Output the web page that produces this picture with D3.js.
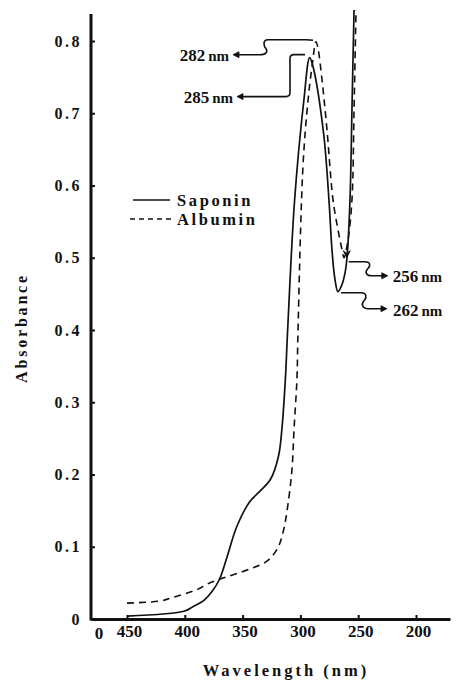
<!DOCTYPE html>
<html>
<head>
<meta charset="utf-8">
<script src="https://cdn.jsdelivr.net/npm/d3@7/dist/d3.min.js"></script>
<style>
  html, body { margin: 0; padding: 0; background: #fff; }
  svg { display: block; }
  text { font-family: "Liberation Serif", "DejaVu Serif", serif; font-weight: bold; fill: #111; }
</style>
</head>
<body>
<div id="chart"></div>
<script>
// ---- data ----
const sapoWave = [450, 400, 393, 384, 376, 370, 364, 355, 344, 335, 326, 319, 316, 313, 311, 305, 297, 292, 289, 280, 275.3, 272.7, 270.1, 267.5, 264, 261.4, 259.7, 257.1, 255.4, 253.6];
const sapoAbs  = [0.004, 0.011, 0.017, 0.025, 0.039, 0.055, 0.083, 0.128, 0.162, 0.177, 0.193, 0.225, 0.263, 0.332, 0.401, 0.580, 0.718, 0.777, 0.764, 0.673, 0.580, 0.511, 0.470, 0.453, 0.463, 0.479, 0.500, 0.580, 0.705, 0.843];
const albWave  = [450, 421, 410, 389, 381, 370, 344, 329, 320, 315, 311, 307.3, 305.5, 303, 302.1, 297.8, 293.4, 290, 286.5, 284.8, 281.3, 277, 271.8, 267.5, 264, 262.3, 258.8, 255.4, 253.6, 251.9];
const albAbs   = [0.022, 0.025, 0.030, 0.041, 0.048, 0.055, 0.069, 0.080, 0.097, 0.120, 0.156, 0.207, 0.263, 0.332, 0.397, 0.626, 0.718, 0.764, 0.799, 0.790, 0.746, 0.677, 0.580, 0.539, 0.511, 0.500, 0.525, 0.580, 0.705, 0.843];
const xTicks = [450, 400, 350, 300, 250, 200];
const yTicks = [0, 0.1, 0.2, 0.3, 0.4, 0.5, 0.6, 0.7, 0.8];
const seriesNames = ["Saponin", "Albumin"];
const peakLabels = ["282", "285", "256", "262"];
// annotation anchors (wavelength, absorbance on the drawn curves)
const annWave = [286.5, 291.7, 259.9, 267.5];
const annAbs  = [0.799, 0.777, 0.500, 0.453];

const W = 456, H = 682;
const svg = d3.select("#chart").append("svg").attr("width", W).attr("height", H);

const x = d3.scaleLinear().domain([450, 200]).range([127, 416]);
const xLeft = x.invert(91), xRight = x.invert(450);
x.domain([xLeft, xRight]).range([91, 450]);
const y = d3.scaleLinear().domain([0, 0.8]).range([619, 41]);
const yTop = y.invert(14);

// axes
const xAxis = d3.axisBottom(x).tickValues(xTicks).tickSizeInner(-4).tickSizeOuter(0).tickPadding(6).tickFormat(d3.format("d"));
const gx = svg.append("g").attr("transform", `translate(0,${y(0)})`).call(xAxis);
gx.select(".domain").attr("stroke", "#111").attr("stroke-width", 3);
gx.selectAll(".tick line").attr("stroke", "#111").attr("stroke-width", 2);
gx.selectAll(".tick text").attr("font-size", 17).attr("fill", "#111")
  .attr("font-family", '"Liberation Serif", serif').attr("font-weight", "bold").attr("dx", 2);

const yAxis = d3.axisLeft(y).tickValues(yTicks).tickSizeInner(-4).tickSizeOuter(0).tickPadding(9)
  .tickFormat(d => d === 0 ? "0" : d3.format(".1f")(d));
const gy = svg.append("g").attr("transform", `translate(${x(xLeft)},0)`).call(yAxis);
gy.select(".domain").remove();
gy.append("line").attr("x1", 0).attr("x2", 0).attr("y1", y(0) + 1.5).attr("y2", y(yTop))
  .attr("stroke", "#111").attr("stroke-width", 3);
gy.selectAll(".tick line").attr("stroke", "#111").attr("stroke-width", 2);
gy.selectAll(".tick text").attr("font-size", 16).attr("fill", "#111")
  .attr("font-family", '"Liberation Serif", serif').attr("font-weight", "bold")
  .attr("letter-spacing", "2.5px");

// origin "0"
svg.append("text").attr("x", x(xLeft) + 8).attr("y", y(0) + 20).attr("text-anchor", "middle")
  .attr("font-size", 17).text("0");

// axis titles
svg.append("text").attr("x", 286).attr("y", 676).attr("text-anchor", "middle")
  .attr("font-size", 16.5).attr("letter-spacing", "3px").text("Wavelength (nm)");
svg.append("text").attr("transform", "translate(27,328) rotate(-90)").attr("text-anchor", "middle")
  .attr("font-size", 16).attr("letter-spacing", "2.8px").text("Absorbance");

// curves
const line = d3.line().x(d => x(d[0])).y(d => y(d[1])).curve(d3.curveCatmullRom.alpha(0.5));
const sapo = sapoWave.map((w, i) => [w, sapoAbs[i]]);
const alb = albWave.map((w, i) => [w, albAbs[i]]);
svg.append("path").datum(alb).attr("d", line).attr("fill", "none").attr("stroke", "#111")
  .attr("stroke-width", 1.6).attr("stroke-dasharray", "7,5");
svg.append("path").datum(sapo).attr("d", line).attr("fill", "none").attr("stroke", "#111")
  .attr("stroke-width", 1.7);

// legend
const legX = 133, legY = [200, 219];
svg.append("line").attr("x1", legX).attr("x2", legX + 37).attr("y1", legY[0]).attr("y2", legY[0])
  .attr("stroke", "#111").attr("stroke-width", 1.7);
svg.append("line").attr("x1", legX - 3).attr("x2", legX + 40).attr("y1", legY[1]).attr("y2", legY[1])
  .attr("stroke", "#111").attr("stroke-width", 1.5).attr("stroke-dasharray", "5,4");
seriesNames.forEach((n, i) => {
  svg.append("text").attr("x", legX + 44).attr("y", legY[i] + 6).attr("font-size", 16.5)
    .attr("letter-spacing", "2.6px").text(n);
});

// annotations
const ann = svg.append("g").attr("fill", "none").attr("stroke", "#111").attr("stroke-width", 1.6);
function arrowHead(px, py, dir) {
  // dir: "left", "right", "down"
  let p;
  if (dir === "left") p = `M${px},${py} l6,-3 l0,6 z`;
  else if (dir === "right") p = `M${px},${py} l-6,-3 l0,6 z`;
  else p = `M${px},${py} l-3.5,-7 l3.5,2.5 l3.5,-2.5 z`;
  svg.append("path").attr("d", p).attr("fill", "#111").attr("stroke", "#111").attr("stroke-width", 0.8);
}
function label(tx, ty, num, anchor) {
  const t = svg.append("text").attr("x", tx).attr("y", ty).attr("text-anchor", anchor).attr("font-size", 17);
  t.append("tspan").text(num);
  t.append("tspan").attr("dx", 3).attr("font-size", 15).text("nm");
}
// 282 nm (albumin peak)
{
  const px = x(annWave[0]), py = y(annAbs[0]);
  ann.append("path").attr("d",
    `M${px - 3},${py - 1.5} Q${px - 6},${py - 2} ${px - 10},${py - 2} H${px - 48}` +
    ` C${px - 54},${py - 2} ${px - 52},${py + 5} ${px - 50},${py + 7}` +
    ` C${px - 48},${py + 10} ${px - 50},${py + 13} ${px - 56},${py + 13} H${px - 78}`);
  arrowHead(px - 83, py + 13, "left");
  label(px - 87, py + 19, peakLabels[0], "end");
}
// 285 nm (saponin peak)
{
  const px = x(annWave[1]), py = y(annAbs[1]);
  ann.append("path").attr("d",
    `M${px - 5},${py - 3} H${px - 16} Q${px - 20},${py - 3} ${px - 20},${py + 1} V${py + 35}` +
    ` Q${px - 20},${py + 39} ${px - 24},${py + 39} H${px - 68}`);
  arrowHead(px - 73, py + 39, "left");
  label(px - 77, py + 45, peakLabels[1], "end");
}
// 256 nm (albumin trough)
{
  const px = x(annWave[2]), py = y(annAbs[2]);
  arrowHead(px, py, "down");
  ann.append("path").attr("d",
    `M${px + 2},${py + 4} H${px + 18} C${px + 24},${py + 4} ${px + 24},${py + 8} ${px + 21},${py + 11}` +
    ` C${px + 18},${py + 14} ${px + 19},${py + 18} ${px + 25},${py + 18} H${px + 36}`);
  arrowHead(px + 41, py + 18, "right");
  label(px + 46, py + 24, peakLabels[2], "start");
}
// 262 nm (saponin trough)
{
  const px = x(annWave[3]), py = y(annAbs[3]);
  ann.append("path").attr("d",
    `M${px + 3},${py + 1} H${px + 23} C${px + 29},${py + 1} ${px + 29},${py + 6} ${px + 26},${py + 9}` +
    ` C${px + 23},${py + 12} ${px + 24},${py + 17} ${px + 30},${py + 17} H${px + 44}`);
  arrowHead(px + 49, py + 17, "right");
  label(px + 55, py + 24, peakLabels[3], "start");
}
</script>
</body>
</html>
